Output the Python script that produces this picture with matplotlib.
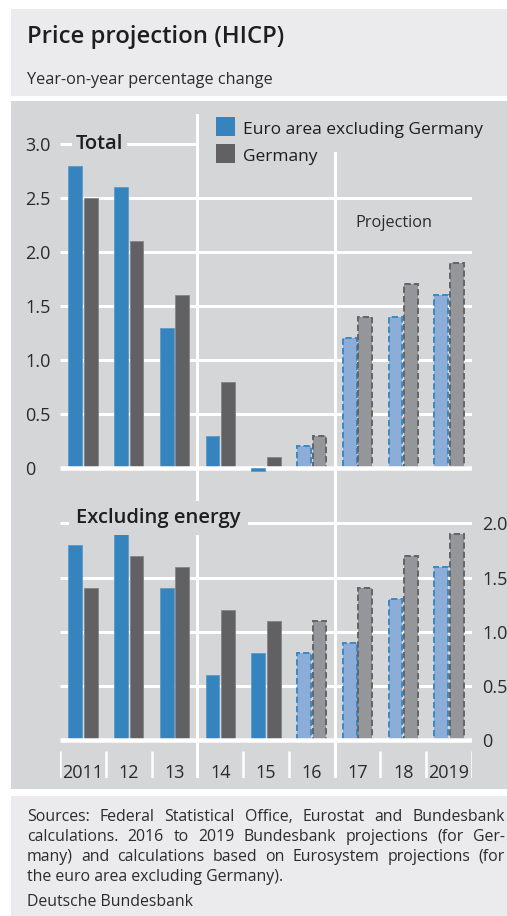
import matplotlib
matplotlib.use("Agg")
import matplotlib.pyplot as plt
from matplotlib.patches import Rectangle
from matplotlib.transforms import blended_transform_factory

# ---- data -------------------------------------------------------------
years = ["2011", "12", "13", "14", "15", "16", "17", "18", "2019"]
n_outturn = 5  # 2011-2015 outturns, 2016-2019 projections

total_euro_ex_de = [2.8, 2.6, 1.3, 0.3, -0.03, 0.2, 1.2, 1.4, 1.6]
total_germany = [2.5, 2.1, 1.6, 0.8, 0.1, 0.3, 1.4, 1.7, 1.9]
exen_euro_ex_de = [1.8, 1.9, 1.4, 0.6, 0.8, 0.8, 0.9, 1.3, 1.6]
exen_germany = [1.4, 1.7, 1.6, 1.2, 1.1, 1.1, 1.4, 1.7, 1.9]

top_ticks = [0, 0.5, 1.0, 1.5, 2.0, 2.5, 3.0]
top_tick_labels = ["0", "0.5", "1.0", "1.5", "2.0", "2.5", "3.0"]
bottom_ticks = [0, 0.5, 1.0, 1.5, 2.0]
bottom_tick_labels = ["0", "0.5", "1.0", "1.5", "2.0"]

series_names = ["Euro area excluding Germany", "Germany"]
title = "Price projection (HICP)"
subtitle = "Year-on-year percentage change"
panel_titles = ["Total", "Excluding energy"]
projection_label = "Projection"
footnote_lines = [
    "Sources: Federal Statistical Office, Eurostat and Bundesbank",
    "calculations. 2016 to 2019 Bundesbank projections (for Ger-",
    "many) and calculations based on Eurosystem projections (for",
    "the euro area excluding Germany).",
]
source = "Deutsche Bundesbank"

# ---- style ------------------------------------------------------------
FONT = ["Open Sans", "DejaVu Sans"]
plt.rcParams["font.family"] = FONT
LIGHT_BG = "#ebebed"
PANEL_BG = "#d5d6d8"
BLUE = "#3584bd"
BLUE_EDGE = "#5a9ccc"
DARK = "#616163"
DARK_EDGE = "#858587"
BLUE_PROJ = "#8cadd8"
BLUE_PROJ_EDGE = "#3a88c4"
GREY_PROJ = "#959699"
GREY_PROJ_EDGE = "#646466"
TEXT = "#2b2b2b"
WHITE = "white"

W, H, DPI = 507, 916, 100
fig = plt.figure(figsize=(W / DPI, H / DPI), dpi=DPI)
fig.patch.set_facecolor("white")


def fx(px):
    return px / W


def fy(py):
    return 1 - py / H


def px2pt(px):
    return px * 72 / DPI


# background panels
for top, bottom, col in [(9, 96, LIGHT_BG), (101, 789, PANEL_BG), (796, 916, LIGHT_BG)]:
    fig.patches.append(Rectangle((fx(11), fy(bottom)), fx(W - 11), (bottom - top) / H,
                                 transform=fig.transFigure, facecolor=col,
                                 edgecolor="none", zorder=-5))

# header text
fig.text(fx(27), fy(43), title, fontsize=17.2, fontweight="semibold",
         color="#1e1e1e", va="baseline", ha="left")
fig.text(fx(27), fy(84), subtitle, fontsize=11.7, color=TEXT, va="baseline", ha="left")

# ---- axes -------------------------------------------------------------
X_LEFT, X_RIGHT = 60, 472
TOP_T, SPLIT, BOT_B = 114, 490, 778
TOP_ZERO, BOT_ZERO = 468, 740
SCALE_TOP, SCALE_BOT = 108.0, 108.3

ax_top = fig.add_axes([fx(X_LEFT), fy(SPLIT), (X_RIGHT - X_LEFT) / W, (SPLIT - TOP_T) / H])
ax_bot = fig.add_axes([fx(X_LEFT), fy(BOT_B), (X_RIGHT - X_LEFT) / W, (BOT_B - SPLIT) / H])
ax_top.set_ylim(-(SPLIT - TOP_ZERO) / SCALE_TOP, (TOP_ZERO - TOP_T) / SCALE_TOP)
ax_bot.set_ylim(-(BOT_B - BOT_ZERO) / SCALE_BOT, (BOT_ZERO - SPLIT) / SCALE_BOT)

x = list(range(len(years)))
bar_w = 0.3
offset = 0.17
grid_lw = px2pt(3)
zero_lw = px2pt(4.5)
TICK_FS = 13

for ax in (ax_top, ax_bot):
    ax.set_facecolor("none")
    ax.set_xlim(-0.5, len(years) - 0.5)
    for s in ax.spines.values():
        s.set_visible(False)
    ax.set_xticks([])
    ax.tick_params(axis="y", length=0, labelsize=TICK_FS, labelcolor=TEXT)


def draw_bars(ax, euro, germ):
    for i in x:
        proj = i >= n_outturn
        for val, dx, fc, ec, pfc, pec in [
            (euro[i], -offset, BLUE, BLUE_EDGE, BLUE_PROJ, BLUE_PROJ_EDGE),
            (germ[i], offset, DARK, DARK_EDGE, GREY_PROJ, GREY_PROJ_EDGE),
        ]:
            z = 6 if val < 0 else 3
            if proj:
                ax.bar(i + dx, val, width=bar_w, color=pfc, edgecolor=pec,
                       linewidth=1.4, linestyle=(0, (3.2, 1.6)), zorder=z)
            else:
                ax.bar(i + dx, val, width=bar_w, color=fc, edgecolor=ec,
                       linewidth=0.6, zorder=z)


draw_bars(ax_top, total_euro_ex_de, total_germany)
draw_bars(ax_bot, exen_euro_ex_de, exen_germany)

# horizontal grid
for t in top_ticks[1:]:
    xmax = 2.5 if t == top_ticks[-1] else len(years) - 0.5
    ax_top.hlines(t, -0.5, xmax, color=WHITE, lw=grid_lw, zorder=1)
for t in bottom_ticks[1:]:
    ax_bot.hlines(t, -0.5, len(years) - 0.5, color=WHITE, lw=grid_lw, zorder=1)
ax_top.hlines(0, -0.5, len(years) - 0.5, color=WHITE, lw=zero_lw, zorder=4)
ax_bot.hlines(0, -0.5, len(years) - 0.5, color=WHITE, lw=zero_lw, zorder=4)

# vertical separators (outturn / near term / projection horizon)
sep_lw = px2pt(3)
ax_top.axvline(2.5, 0, 1, color=WHITE, lw=sep_lw, zorder=1)
ax_top.axvline(5.5, 0, (SPLIT - 153) / (SPLIT - TOP_T), color=WHITE, lw=sep_lw, zorder=1)
ax_bot.axvline(2.5, 0, 1, color=WHITE, lw=sep_lw, zorder=1)
ax_bot.axvline(5.5, 0, 1, color=WHITE, lw=sep_lw, zorder=1)

# category boundary ticks and year labels
tr = blended_transform_factory(ax_bot.transData, ax_bot.transAxes)
tick_h = (BOT_B - 751) / (BOT_B - SPLIT)
for b in [i - 0.5 for i in range(len(years) + 1)]:
    ax_bot.vlines(b, 0, tick_h, transform=tr, color=WHITE, lw=px2pt(2.5), zorder=1)
base = (BOT_B - 777.5) / (BOT_B - SPLIT)
for i, lab in enumerate(years):
    ax_bot.text(i, base, lab, transform=tr, ha="center", va="baseline",
                fontsize=TICK_FS, color=TEXT)

# y tick labels
ax_top.set_yticks(top_ticks, top_tick_labels)
ax_top.tick_params(axis="y", pad=px2pt(X_LEFT - 25))
for lab in ax_top.get_yticklabels():
    lab.set_horizontalalignment("left")
ax_bot.yaxis.tick_right()
ax_bot.set_yticks(bottom_ticks, bottom_tick_labels)
ax_bot.tick_params(axis="y", pad=px2pt(482 - X_RIGHT))

# panel titles sitting on the top grid line
ax_top.text(-0.15, top_ticks[-1], panel_titles[0], fontsize=14.5, fontweight="semibold",
            color="#1e1e1e", ha="left", va="center", zorder=5,
            bbox=dict(boxstyle="square,pad=0.2", fc=PANEL_BG, ec="none"))
ax_bot.text(-0.15, bottom_ticks[-1], panel_titles[1], fontsize=14.5, fontweight="semibold",
            color="#1e1e1e", ha="left", va="baseline", zorder=5,
            bbox=dict(boxstyle="square,pad=0.35", fc=PANEL_BG, ec="none"))

ax_top.text(6.8, 2.27, projection_label, fontsize=11.7, color=TEXT, ha="center", va="center")

# legend
for k, (name, col) in enumerate(zip(series_names, [BLUE, DARK])):
    top = 117 + 27.3 * k
    fig.patches.append(Rectangle((fx(216), fy(top + 19)), 19 / W, 19 / H,
                                 transform=fig.transFigure, facecolor=col, edgecolor="none",
                                 zorder=5))
    fig.text(fx(243), fy(top + 16.5), name, fontsize=12.5, fontweight="medium",
             color="#1e1e1e", ha="left", va="baseline")

# footnote, justified
fig.canvas.draw()
renderer = fig.canvas.get_renderer()
FOOT_FS = 11.4
x0, x1 = 27, 505
for k, line in enumerate(footnote_lines):
    yb = fy(820.7 + 20 * k)
    if k == len(footnote_lines) - 1:
        fig.text(fx(x0), yb, line, fontsize=FOOT_FS, color=TEXT, va="baseline")
        continue
    words = line.split(" ")
    widths = []
    for w in words:
        t = fig.text(0, 0, w, fontsize=FOOT_FS)
        widths.append(t.get_window_extent(renderer).width)
        t.remove()
    gap = (x1 - x0 - sum(widths)) / (len(words) - 1)
    xp = x0
    for w, wd in zip(words, widths):
        fig.text(fx(xp), yb, w, fontsize=FOOT_FS, color=TEXT, va="baseline")
        xp += wd + gap
fig.text(fx(x0), fy(906.5), source, fontsize=FOOT_FS, color=TEXT, va="baseline")

fig.savefig("out.png", dpi=DPI, facecolor="white")
